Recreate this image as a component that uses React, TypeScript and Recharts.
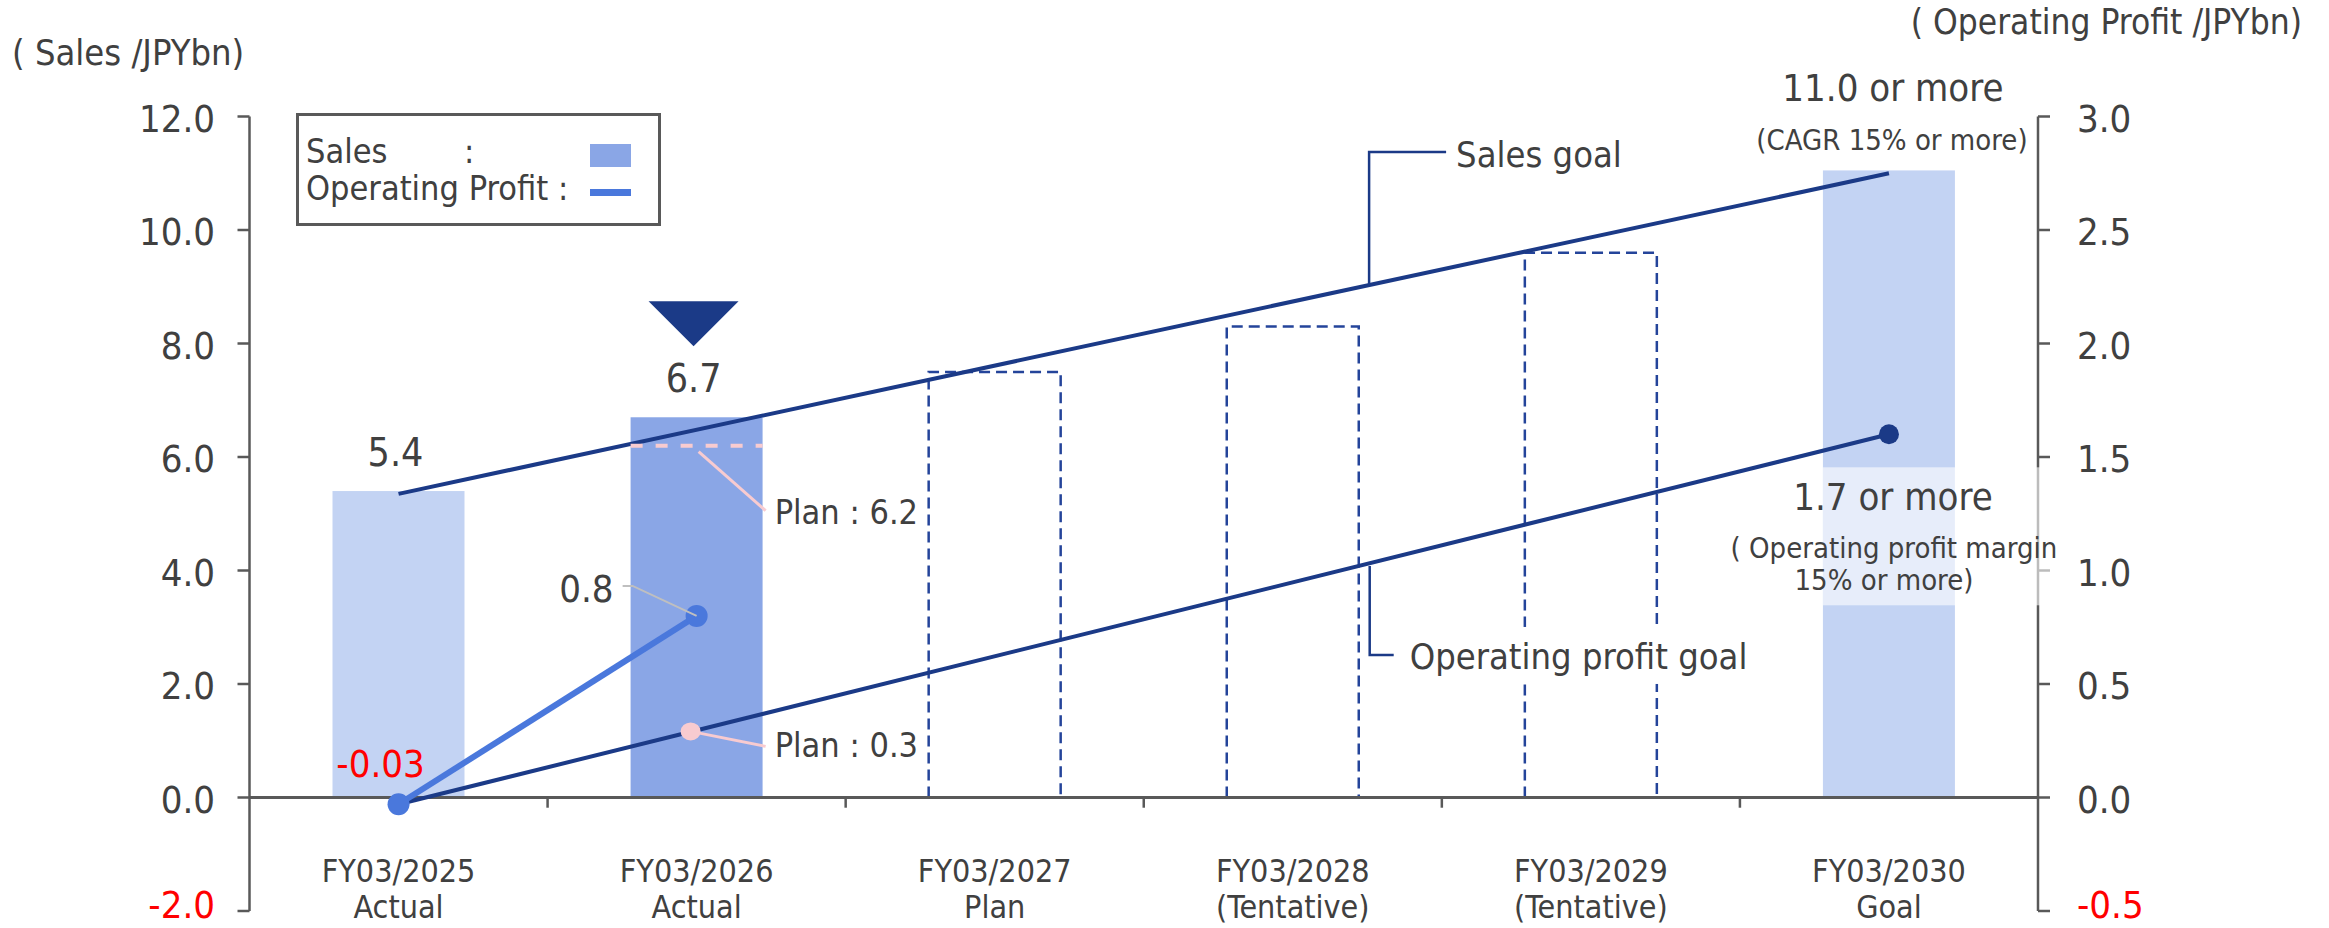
import React from "react";
import {
  ComposedChart,
  Bar,
  Line,
  XAxis,
  YAxis,
  ReferenceLine,
  ReferenceDot,
  LabelList,
  Legend,
} from "recharts";

document.body.style.margin = "0";

const categories = ["FY03/2025", "FY03/2026", "FY03/2027", "FY03/2028", "FY03/2029", "FY03/2030"];
const categoryNotes = ["Actual", "Actual", "Plan", "(Tentative)", "(Tentative)", "Goal"];
const sales = [5.4, 6.7, 7.5, 8.3, 9.6, 11.05];
const salesKind = ["light", "actual", "plan", "plan", "plan", "light"];
const salesPlan = [null, 6.2, null, null, null, null];
const salesGoal = [5.35, null, null, null, null, 11.0];
const opProfit = [-0.03, 0.8, null, null, null, null];
const opPlan = [null, 0.3, null, null, null, null];
const opGoal = [-0.03, null, null, null, null, 1.6];
const leftTicks = [-2, 0, 2, 4, 6, 8, 10, 12];
const rightTicks = [-0.5, 0, 0.5, 1, 1.5, 2, 2.5, 3];
const boundaries = [1, 2, 3, 4, 5];

const data = categories.map((name, i) => ({
  name,
  pos: i + 0.5,
  sales: sales[i],
  salesPlan: salesPlan[i],
  salesGoal: salesGoal[i],
  opProfit: opProfit[i],
  opPlan: opPlan[i],
  opGoal: opGoal[i],
}));

const FONT = "'DejaVu Sans Condensed', 'DejaVu Sans', sans-serif";
const TEXT = "#404040";
const AXIS = "#595959";
const RED = "#FF0000";
const NAVY = "#1B3A87";
const BLUE = "#4A78DC";
const PINK = "#F8CBD0";
const LIGHT = "#C3D3F3";
const MID = "#8AA6E6";

const txt = { fontFamily: FONT, fontStretch: "condensed" } as React.CSSProperties;

// bottom tick label sits at the page edge, nudge it up a bit
const tickDy = (v: number, min: number) => (v === min ? 7 : 15);

function LeftTick({ x, y, payload }: any) {
  const v = payload.value;
  return (
    <text x={x} y={y + tickDy(v, -2)} textAnchor="end" fontSize={38} fill={v < 0 ? RED : TEXT} style={txt}>
      {v.toFixed(1)}
    </text>
  );
}

function RightTick({ x, y, payload }: any) {
  const v = payload.value;
  return (
    <text x={x} y={y + tickDy(v, -0.5)} textAnchor="start" fontSize={38} fill={v < 0 ? RED : TEXT} style={txt}>
      {v.toFixed(1)}
    </text>
  );
}

function CategoryTick({ x, y, payload, index }: any) {
  return (
    <g>
      <text x={x} y={y - 29} textAnchor="middle" fontSize={32} fill={TEXT} style={txt}>
        {payload.value}
      </text>
      <text x={x} y={y + 7} textAnchor="middle" fontSize={32} fill={TEXT} style={txt}>
        {categoryNotes[index]}
      </text>
    </g>
  );
}

function SalesBarShape(props: any) {
  const { x, y, width, height, index } = props;
  const kind = salesKind[index];
  if (kind === "plan") {
    return (
      <path
        d={`M${x},${y + height} L${x},${y} L${x + width},${y} L${x + width},${y + height}`}
        fill="none"
        stroke="#24449A"
        strokeWidth={2.5}
        strokeDasharray="11 6"
      />
    );
  }
  return <rect x={x} y={y} width={width} height={height} fill={kind === "actual" ? MID : LIGHT} />;
}

function SalesLabel(props: any) {
  const { x, y, width, index } = props;
  const cx = x + width / 2;
  if (index === 0) {
    return (
      <text x={cx - 3} y={y - 25} textAnchor="middle" fontSize={39} fill={TEXT} style={txt}>
        {sales[0].toFixed(1)}
      </text>
    );
  }
  if (index === 1) {
    return (
      <g>
        <path d={`M${cx - 48},${y - 116} L${cx + 42},${y - 116} L${cx - 3},${y - 71} Z`} fill={NAVY} />
        <text x={cx - 3} y={y - 25} textAnchor="middle" fontSize={39} fill={TEXT} style={txt}>
          {sales[1].toFixed(1)}
        </text>
      </g>
    );
  }
  if (index === 5) {
    return (
      <g>
        <text x={cx + 4} y={y - 69} textAnchor="middle" fontSize={38} fill={TEXT} style={txt}>
          11.0 or more
        </text>
        <text x={cx + 3} y={y - 20} textAnchor="middle" fontSize={29} fill={TEXT} style={txt}>
          (CAGR 15% or more)
        </text>
      </g>
    );
  }
  return <g />;
}

function SalesPlanDot(props: any) {
  const { cx, cy, payload } = props;
  if (payload.salesPlan == null || cy == null) return <g />;
  return (
    <g>
      <line x1={cx - 66} y1={cy} x2={cx + 66} y2={cy} stroke={PINK} strokeWidth={4} strokeDasharray="12 13" />
      <line x1={cx + 2} y1={cy + 6} x2={cx + 69} y2={cy + 65} stroke={PINK} strokeWidth={3} />
      <text x={cx + 78} y={cy + 78} fontSize={34} fill={TEXT} style={txt}>
        {`Plan : ${payload.salesPlan.toFixed(1)}`}
      </text>
    </g>
  );
}

function OpPlanDot(props: any) {
  const { cx, cy, payload } = props;
  if (payload.opPlan == null || cy == null) return <g />;
  return (
    <g>
      <line x1={cx - 6} y1={cy + 2} x2={cx + 69} y2={cy + 17} stroke={PINK} strokeWidth={3} />
      <ellipse cx={cx - 6} cy={cy + 2} rx={10} ry={9} fill={PINK} />
      <text x={cx + 78} y={cy + 28} fontSize={34} fill={TEXT} style={txt}>
        {`Plan : ${payload.opPlan.toFixed(1)}`}
      </text>
    </g>
  );
}

function OpLabel(props: any) {
  const { x, y, index, value } = props;
  if (value == null) return <g />;
  if (index === 0) {
    return (
      <text x={x - 18} y={y - 27} textAnchor="middle" fontSize={38} fill={RED} style={txt}>
        {value.toFixed(2)}
      </text>
    );
  }
  return (
    <g>
      <polyline
        points={`${x - 74},${y - 30} ${x - 64},${y - 30} ${x},${y}`}
        fill="none"
        stroke="#BFBFBF"
        strokeWidth={2}
      />
      <text x={x - 83} y={y - 14} textAnchor="end" fontSize={38} fill={TEXT} style={txt}>
        {value.toFixed(1)}
      </text>
    </g>
  );
}

function OpGoalDot(props: any) {
  const { cx, cy, index } = props;
  if (index !== 5 || cy == null) return <g />;
  return <circle cx={cx} cy={cy} r={10} fill={NAVY} />;
}

function OpGoalLabel(props: any) {
  const { x, y, index } = props;
  if (index !== 5) return <g />;
  return (
    <g>
      <rect x={x - 66} y={y + 33} width={229} height={138} fill="#FFFFFF" fillOpacity={0.6} />
      <text x={x + 4} y={y + 76} textAnchor="middle" fontSize={38} fill={TEXT} style={txt}>
        1.7 or more
      </text>
      <text x={x + 5} y={y + 124} textAnchor="middle" fontSize={29} fill={TEXT} style={txt}>
        ( Operating profit margin
      </text>
      <text x={x - 5} y={y + 156} textAnchor="middle" fontSize={29} fill={TEXT} style={txt}>
        15% or more)
      </text>
    </g>
  );
}

function SalesGoalCallout({ cx, cy }: any) {
  return (
    <g>
      <polyline points={`${cx},${cy} ${cx},${cy - 133} ${cx + 77},${cy - 133}`} fill="none" stroke={NAVY} strokeWidth={2.5} />
      <text x={cx + 87} y={cy - 118} fontSize={36} fill={TEXT} style={txt}>
        Sales goal
      </text>
    </g>
  );
}

function OpGoalCallout({ cx, cy }: any) {
  return (
    <g>
      <rect x={cx + 31} y={cy + 61} width={356} height={57} fill="#FFFFFF" />
      <polyline points={`${cx},${cy} ${cx},${cy + 89} ${cx + 24},${cy + 89}`} fill="none" stroke={NAVY} strokeWidth={2.5} />
      <text x={cx + 40} y={cy + 103} fontSize={36} fill={TEXT} style={txt}>
        Operating profit goal
      </text>
    </g>
  );
}

function LegendBox() {
  return (
    <svg width={365} height={113} style={{ display: "block" }}>
      <rect x={1.5} y={1.5} width={362} height={110} fill="#FFFFFF" stroke={AXIS} strokeWidth={3} />
      <text x={10} y={50} fontSize={34} fill={TEXT} style={txt}>Sales</text>
      <text x={168} y={50} fontSize={34} fill={TEXT} style={txt}>:</text>
      <rect x={294} y={31} width={41} height={23} fill={MID} />
      <text x={10} y={87} fontSize={34} fill={TEXT} style={txt}>Operating Profit :</text>
      <rect x={294} y={76} width={41} height={7} fill={BLUE} />
    </svg>
  );
}

export default function App() {
  return (
    <ComposedChart
      width={2329}
      height={928}
      data={data}
      margin={{ top: 116.5, right: 0, bottom: 0, left: 0 }}
      style={{ fontFamily: FONT }}
    >
      <XAxis
        xAxisId="cat"
        dataKey="name"
        height={17}
        axisLine={false}
        tickLine={false}
        tickSize={0}
        tickMargin={0}
        interval={0}
        tick={<CategoryTick />}
      />
      <XAxis xAxisId="num" dataKey="pos" type="number" domain={[0, 6]} hide />
      <YAxis
        yAxisId="left"
        domain={[-2, 12]}
        ticks={leftTicks}
        interval={0}
        width={249.5}
        tickSize={12}
        tickMargin={22.5}
        axisLine={{ stroke: AXIS, strokeWidth: 2.5 }}
        tickLine={{ stroke: AXIS, strokeWidth: 2.5 }}
        tick={<LeftTick />}
        label={() => (
          <text x={12} y={65} fontSize={36} fill={TEXT} style={txt}>
            ( Sales /JPYbn)
          </text>
        )}
      />
      <YAxis
        yAxisId="right"
        orientation="right"
        domain={[-0.5, 3]}
        ticks={rightTicks}
        interval={0}
        width={291}
        tickSize={12}
        tickMargin={27}
        axisLine={{ stroke: AXIS, strokeWidth: 2.5 }}
        tickLine={{ stroke: AXIS, strokeWidth: 2.5 }}
        tick={<RightTick />}
        label={() => (
          <text x={2302} y={34} textAnchor="end" fontSize={35} fill={TEXT} style={txt}>
            ( Operating Profit /JPYbn)
          </text>
        )}
      />
      <Legend
        layout="vertical"
        align="center"
        verticalAlign="middle"
        content={<LegendBox />}
        wrapperStyle={{ position: "absolute", left: 296, top: 113, width: 365, height: 113 }}
      />

      <Bar
        xAxisId="cat"
        yAxisId="left"
        dataKey="sales"
        barSize={132}
        shape={<SalesBarShape />}
        isAnimationActive={false}
      >
        <LabelList dataKey="sales" content={<SalesLabel />} />
      </Bar>

      <ReferenceLine xAxisId="num" yAxisId="left" y={0} stroke={AXIS} strokeWidth={3} />
      {boundaries.map((b) => (
        <ReferenceLine
          key={b}
          xAxisId="num"
          yAxisId="left"
          segment={[{ x: b, y: 0 }, { x: b, y: -0.18 }]}
          stroke={AXIS}
          strokeWidth={2.5}
        />
      ))}

      <Line
        xAxisId="cat"
        yAxisId="left"
        dataKey="salesPlan"
        stroke="none"
        dot={<SalesPlanDot />}
        activeDot={false}
        isAnimationActive={false}
      />
      <Line
        xAxisId="cat"
        yAxisId="right"
        dataKey="opPlan"
        stroke="none"
        dot={<OpPlanDot />}
        activeDot={false}
        isAnimationActive={false}
      />
      <Line
        xAxisId="cat"
        yAxisId="left"
        dataKey="salesGoal"
        connectNulls
        stroke={NAVY}
        strokeWidth={4}
        dot={false}
        activeDot={false}
        isAnimationActive={false}
      />
      <Line
        xAxisId="cat"
        yAxisId="right"
        dataKey="opGoal"
        connectNulls
        stroke={NAVY}
        strokeWidth={4}
        dot={<OpGoalDot />}
        activeDot={false}
        isAnimationActive={false}
      >
        <LabelList dataKey="opGoal" content={<OpGoalLabel />} />
      </Line>
      <Line
        xAxisId="cat"
        yAxisId="right"
        dataKey="opProfit"
        stroke={BLUE}
        strokeWidth={6}
        dot={{ r: 11, fill: BLUE, stroke: "none" }}
        activeDot={false}
        isAnimationActive={false}
      >
        <LabelList dataKey="opProfit" content={<OpLabel />} />
      </Line>

      <ReferenceDot xAxisId="num" yAxisId="left" x={3.756} y={9.03} r={0} shape={<SalesGoalCallout />} />
      <ReferenceDot xAxisId="num" yAxisId="right" x={3.758} y={1.02} r={0} shape={<OpGoalCallout />} />
    </ComposedChart>
  );
}
